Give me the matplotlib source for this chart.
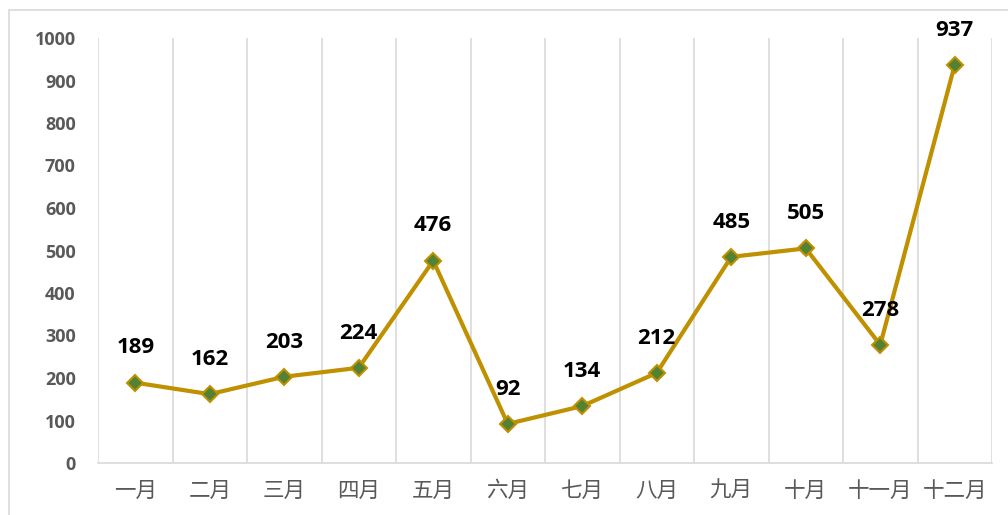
import matplotlib.pyplot as plt
import matplotlib.patches as mpatches

plt.rcParams['font.family'] = ['Noto Sans CJK SC', 'DejaVu Sans']

months = ['一月', '二月', '三月', '四月', '五月', '六月', '七月', '八月', '九月', '十月', '十一月', '十二月']
values = [189, 162, 203, 224, 476, 92, 134, 212, 485, 505, 278, 937]
y_ticks = [0, 100, 200, 300, 400, 500, 600, 700, 800, 900, 1000]

fig = plt.figure(figsize=(10.08, 5.15), dpi=100)
ax = fig.add_axes([98 / 1008, 52 / 515, 894 / 1008, 425 / 515])

x = list(range(len(months)))
ax.plot(x, values, color='#BF9000', linewidth=3.0, marker='D', markersize=8.5,
        markerfacecolor='#548235', markeredgecolor='#BF9000', markeredgewidth=1.5, zorder=3)

for xi, v in zip(x, values):
    ax.annotate(str(v), (xi, v), xytext=(0, 25), textcoords='offset points',
                ha='center', va='center', fontsize=16, fontweight='bold',
                family=['Open Sans', 'DejaVu Sans'], color='black')

ax.set_xlim(-0.5, len(months) - 0.5)
ax.set_ylim(0, 1000)
ax.set_yticks(y_ticks)
ax.set_yticklabels([str(t) for t in y_ticks], fontsize=13, fontweight='bold',
                   color='#595959', family=['Open Sans', 'DejaVu Sans'])
ax.set_xticks(x)
ax.set_xticklabels(months, fontsize=15.5, color='#595959')

# vertical separators between categories
for b in range(len(months) + 1):
    ax.axvline(b - 0.5, color='#D9D9D9', linewidth=1.2, zorder=1)

for side in ['top', 'right', 'left']:
    ax.spines[side].set_visible(False)
ax.spines['bottom'].set_color('#D9D9D9')
ax.spines['bottom'].set_linewidth(1.2)
ax.tick_params(axis='both', length=0)
ax.tick_params(axis='y', pad=16)
ax.tick_params(axis='x', pad=12)

# chart frame
fig.patches.append(mpatches.Rectangle((9 / 1008, -0.1), 1.2, 1 - 10 / 515 + 0.1,
                                      transform=fig.transFigure, fill=False,
                                      edgecolor='#D9D9D9', linewidth=1.2))

fig.savefig('out.png', dpi=100)
